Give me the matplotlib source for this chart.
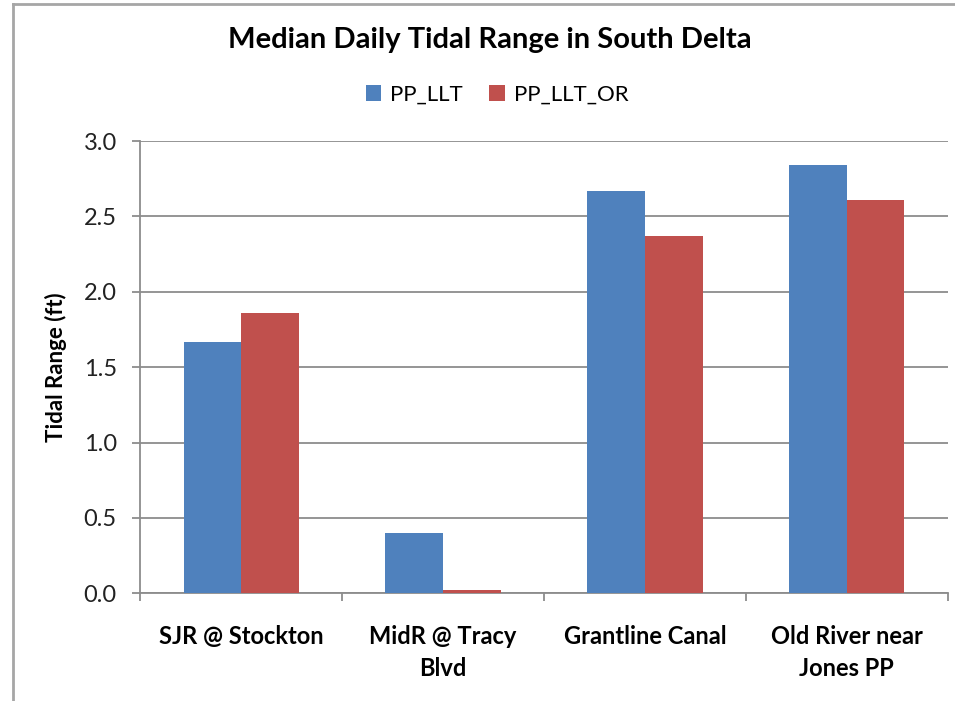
import matplotlib
matplotlib.use("Agg")
import matplotlib.pyplot as plt
import numpy as np
from matplotlib.lines import Line2D

categories = ["SJR @ Stockton", "MidR @ Tracy\nBlvd", "Grantline Canal", "Old River near\nJones PP"]
series_names = ["PP_LLT", "PP_LLT_OR"]
pp_llt = [1.67, 0.40, 2.67, 2.84]
pp_llt_or = [1.86, 0.025, 2.37, 2.61]
yticks = [0.0, 0.5, 1.0, 1.5, 2.0, 2.5, 3.0]
colors = ["#4F81BD", "#C0504D"]
grid_color = "#8C8C8C"

plt.rcParams['font.family'] = ['Lato', 'DejaVu Sans']

fig = plt.figure(figsize=(9.55, 7.01), dpi=100)
ax = fig.add_axes([140.3/955, 1-593.3/701, (947.7-140.3)/955, (593.3-141)/701])

x = np.arange(len(categories))
w = 0.2857
ax.bar(x - w/2, pp_llt, w, color=colors[0], label=series_names[0], zorder=3)
ax.bar(x + w/2, pp_llt_or, w, color=colors[1], label=series_names[1], zorder=3)

ax.set_xlim(-0.5, len(categories) - 0.5)
ax.set_ylim(0, 3.0)
ax.set_yticks(yticks)
ax.set_yticklabels([f"{v:.1f}" for v in yticks], fontsize=17, color="#222222")
ax.yaxis.grid(True, color=grid_color, linewidth=1.3, zorder=0)
ax.set_axisbelow(True)

ax.set_xticks(x)
ax.set_xticklabels(categories, fontsize=17, fontweight="bold", linespacing=1.45)
ax.set_xticks(np.arange(-0.5, len(categories)), minor=True)
ax.tick_params(axis="x", which="major", length=0, pad=23)
ax.tick_params(axis="x", which="minor", length=6, width=1.3, color=grid_color, direction="out")
ax.tick_params(axis="y", which="major", length=6, width=1.3, color=grid_color, direction="out", pad=11)

for s in ["top", "right"]:
    ax.spines[s].set_visible(False)
for s in ["left", "bottom"]:
    ax.spines[s].set_color(grid_color)
    ax.spines[s].set_linewidth(1.3)

ax.set_ylabel("Tidal Range (ft)", fontsize=16, fontweight="bold", labelpad=12)

fig.text(490/955, 1-40/701, "Median Daily Tidal Range in South Delta", ha="center", va="center",
         fontsize=21, fontweight="bold")
fig.legend(loc="center", bbox_to_anchor=(497/955, 1-95/701), ncol=2, frameon=False, fontsize=16,
           handlelength=0.7, handleheight=0.7, handletextpad=0.4, columnspacing=1.2)

fig.add_artist(Line2D([13/955, 13/955], [0, 1-4/701], transform=fig.transFigure, color="#A6A6A6", linewidth=2))
fig.add_artist(Line2D([13/955, 1], [1-4/701, 1-4/701], transform=fig.transFigure, color="#A6A6A6", linewidth=2))

fig.savefig("out.png", dpi=100)
